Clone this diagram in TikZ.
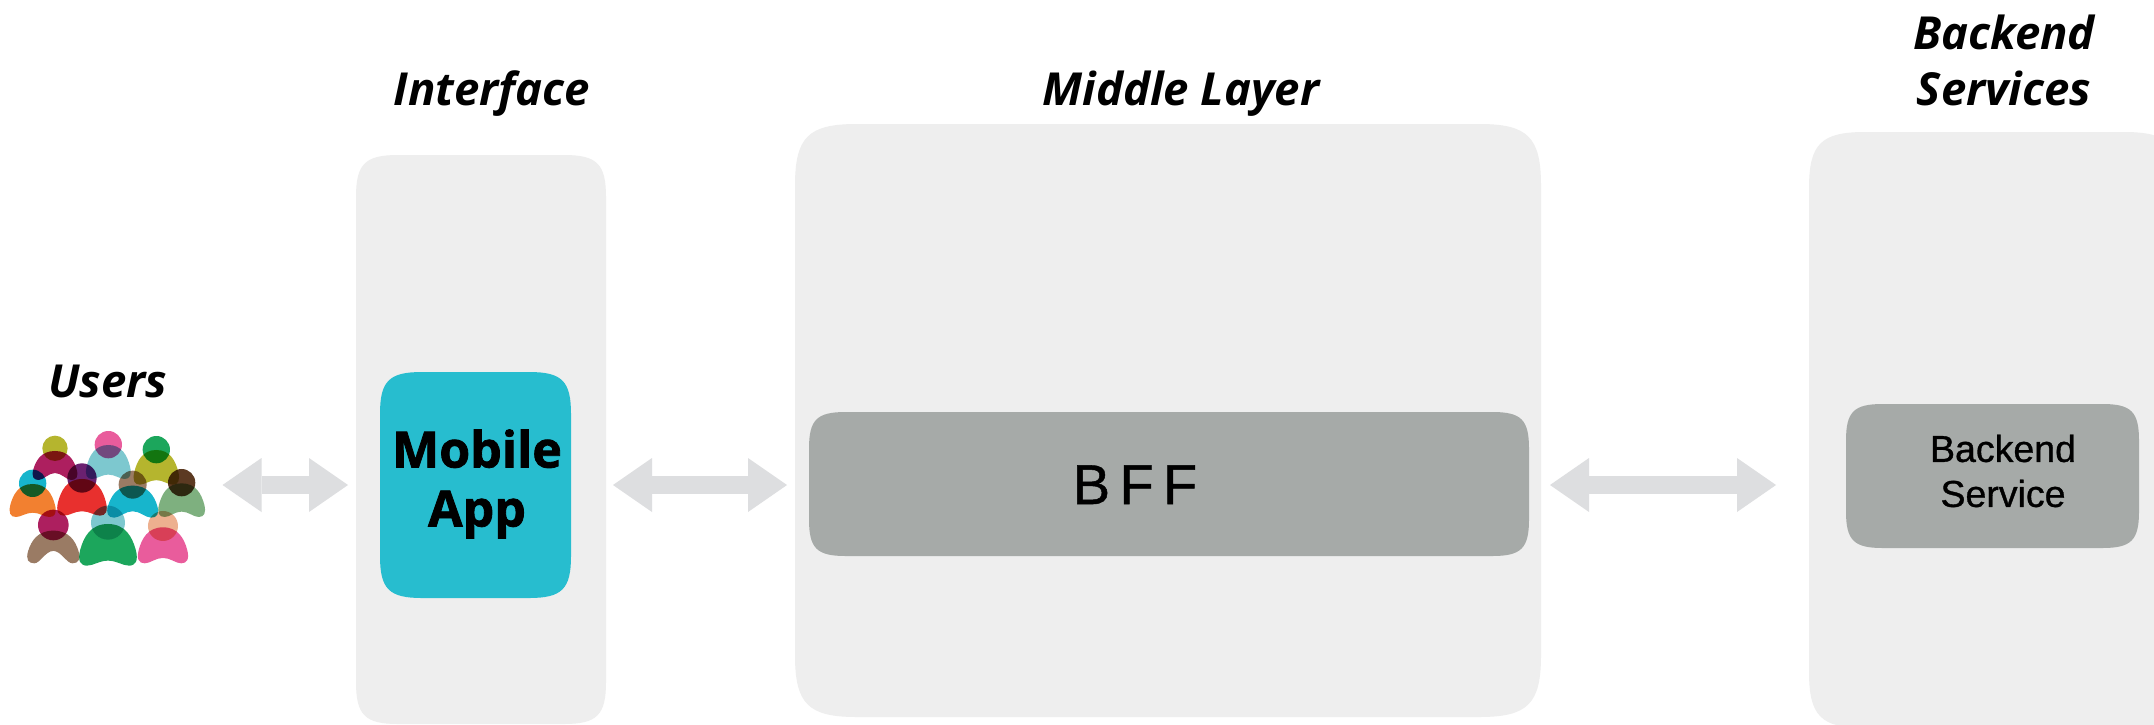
\documentclass[tikz,border=0pt]{standalone}
\usepackage{fontspec}
\setmainfont{Open Sans}
\newfontfamily\svcfont[FakeBold=0.9]{Liberation Sans}
\newfontfamily\heavyfont[FakeBold=1.6]{Open Sans Bold}
\usetikzlibrary{arrows.meta,calc}
\definecolor{panel}{HTML}{EEEEEE}
\definecolor{slab}{HTML}{A6AAA8}
\definecolor{appblue}{HTML}{27BDCF}
\definecolor{arrowgrey}{HTML}{DDDEE0}
\definecolor{pOlive}{HTML}{B5B52E}
\definecolor{pMagenta}{HTML}{AD1F5F}
\definecolor{pPink}{HTML}{E95C9C}
\definecolor{pTeal}{HTML}{7DC8CF}
\definecolor{pGreen}{HTML}{1CA65C}
\definecolor{pCyan}{HTML}{17B5CC}
\definecolor{pOrange}{HTML}{F28030}
\definecolor{pPurple}{HTML}{6B2170}
\definecolor{pRed}{HTML}{E8302E}
\definecolor{pBrown}{HTML}{9A7B64}
\definecolor{pDark}{HTML}{5C3A22}
\definecolor{pSage}{HTML}{7EB07F}
\definecolor{pPeach}{HTML}{EDB08F}
\tikzset{
  heading/.style={font=\fontsize{45.5}{56}\selectfont\bfseries\itshape, align=center, inner sep=0pt, text=black},
  apptext/.style={font=\fontsize{50}{59}\selectfont\heavyfont, align=center, inner sep=0pt},
  svctext/.style={font=\fontsize{37.5}{45}\selectfont\svcfont, align=center, inner sep=0pt},
  bfftext/.style={font=\fontsize{56}{60}\selectfont\svcfont, inner sep=0pt},
  biarrow/.style={draw=arrowgrey, line width=18pt, {Triangle[length=39pt,width=54pt,line width=0pt]}-{Triangle[length=39pt,width=54pt,line width=0pt]}},
  region/.style={inner sep=0pt, outer sep=0pt},
}
% squircle panel: name, x1, y1, x2, y2, r, colour
\newcommand{\sqpanel}[7]{%
  \fill[#7] (#2,#3+1.4*#6) .. controls (#2,#3+0.3*#6) and (#2+0.3*#6,#3) .. (#2+1.4*#6,#3)
    -- (#4-1.4*#6,#3) .. controls (#4-0.3*#6,#3) and (#4,#3+0.3*#6) .. (#4,#3+1.4*#6)
    -- (#4,#5-1.4*#6) .. controls (#4,#5-0.3*#6) and (#4-0.3*#6,#5) .. (#4-1.4*#6,#5)
    -- (#2+1.4*#6,#5) .. controls (#2+0.3*#6,#5) and (#2,#5-0.3*#6) .. (#2,#5-1.4*#6) -- cycle;
  \node[region, minimum width=#4pt-#2pt, minimum height=#5pt-#3pt] (#1) at ({(#2+#4)/2},{(#3+#5)/2}) {};
}
% person: centre x, head y, head r, body half width, body top, body bottom, body colour, head colour (in 3x crop units)
\newcommand{\person}[9][0.8]{%
  \begin{scope}[x=0.3333pt,y=-0.3333pt,yshift=-340pt]
  \fill[#8, blend mode=multiply]
    (#2,#6) .. controls (#2+0.62*#5,#6) and (#2+0.86*#5,{#6+0.32*(#7-#6)}) .. (#2+0.98*#5,{#6+0.62*(#7-#6)})
    .. controls (#2+1.08*#5,{#6+0.88*(#7-#6)}) and (#2+0.98*#5,#7) .. (#2+0.74*#5,#7)
    .. controls (#2+0.52*#5,#7) and (#2+0.3*#5,{#6+#1*(#7-#6)}) .. (#2,{#6+#1*(#7-#6)})
    .. controls (#2-0.3*#5,{#6+#1*(#7-#6)}) and (#2-0.52*#5,#7) .. (#2-0.74*#5,#7)
    .. controls (#2-0.98*#5,#7) and (#2-1.08*#5,{#6+0.88*(#7-#6)}) .. (#2-0.98*#5,{#6+0.62*(#7-#6)})
    .. controls (#2-0.86*#5,{#6+0.32*(#7-#6)}) and (#2-0.62*#5,#6) .. (#2,#6) -- cycle;
  \fill[#9, blend mode=multiply] (#2,#3) circle[radius=#4];
  \end{scope}
}
\begin{document}
\begin{tikzpicture}[x=1pt,y=-1pt]
\useasboundingbox (0,0) rectangle (2154,724);
\clip (0,0) rectangle (2154,724);
\fill[white] (0,0) rectangle (2154,724);
% panels
\sqpanel{iface}{356}{155}{606}{724}{30}{panel}
\sqpanel{middle}{795}{124}{1541}{717}{44}{panel}
\sqpanel{backend}{1809}{132}{2180}{728}{40}{panel}
% inner boxes
\sqpanel{mobile}{380}{372}{571}{598}{30}{appblue}
\sqpanel{bff}{809}{412}{1529}{556}{26}{slab}
\sqpanel{svc}{1846}{404}{2139}{548}{26}{slab}
% users
\person[0.76]{165}{325}{38}{66}{333}{420}{pMagenta}{pOlive}
\person[0.87]{325}{314}{41}{66}{315}{417}{pTeal}{pPink}
\person[0.87]{469}{329}{41}{67}{330}{434}{pOlive}{pGreen}
\person[0.87]{98}{430}{41}{68}{432}{531}{pOrange}{pCyan}
\person[0.88]{246}{414}{44}{73}{417}{527}{pRed}{pPurple}
\person[0.8]{398}{434}{42}{75}{437}{533}{pCyan}{pBrown}
\person[0.84]{545}{428}{41}{69}{430}{531}{pSage}{pDark}
\person[0.62]{160}{555}{46}{77}{572}{670}{pBrown}{pMagenta}
\person[0.88]{324}{548}{51}{85}{552}{677}{pGreen}{pTeal}
\person[0.85]{489}{558}{45}{74}{562}{670}{pPink}{pPeach}
\node[region, minimum width=193pt, minimum height=135pt] (users) at (107,498) {};
% arrows
\draw[biarrow, shorten <=19pt, shorten >=32pt] (users.east |- mobile.west) -- (mobile.west);
\draw[biarrow, shorten <=42pt, shorten >=22pt] (mobile.east) -- (mobile.east -| bff.west);
\draw[biarrow, shorten <=21pt, shorten >=70pt] (mobile.east -| bff.east) -- (mobile.east -| svc.west);
% text
\node[heading, anchor=base] (tusers) at (108,397) {Users};
\node[heading, anchor=base] (tiface) at (492,105) {Interface};
\node[heading, anchor=base] (tmiddle) at (1181,105) {Middle Layer};
\node[heading] (tback) at (2004,60) {Backend\\Services};
\node[apptext] (tmobile) at (477,484) {Mobile\\App};
\node[bfftext, anchor=base] (tbff) at (1135,504) {B\,F\,F};
\node[svctext] (tsvc) at (2003,471) {Backend\\Service};
\end{tikzpicture}
\end{document}
